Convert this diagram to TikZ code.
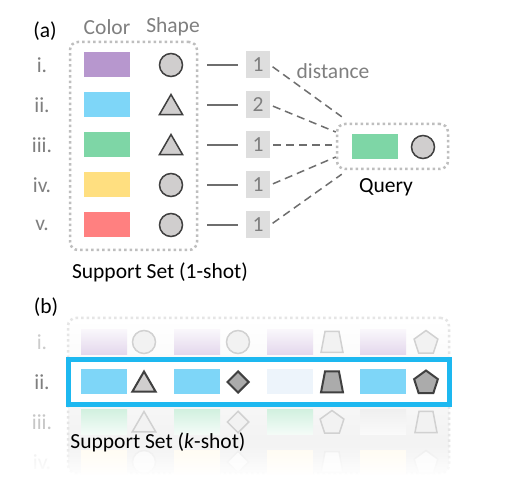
\documentclass[tikz,border=0pt]{standalone}
\usepackage{fontspec}
\setmainfont{Carlito}
\usetikzlibrary{positioning,calc,shapes.geometric,fadings}
\definecolor{cPurple}{RGB}{183,151,206}
\definecolor{cBlue}{RGB}{126,214,248}
\definecolor{cGreen}{RGB}{126,214,166}
\definecolor{cYellow}{RGB}{255,223,128}
\definecolor{cRed}{RGB}{255,128,128}
\definecolor{cPale}{RGB}{237,244,251}
\definecolor{cHigh}{RGB}{29,184,240}
\definecolor{cGrayText}{RGB}{127,127,127}
\definecolor{cLine}{RGB}{110,110,110}
\definecolor{cNumBox}{RGB}{222,222,222}
\definecolor{cDot}{RGB}{190,190,190}
\definecolor{cStroke}{RGB}{64,64,64}
\definecolor{cShapeFill}{RGB}{208,206,206}
\tikzfading[name=fadeout, top color=transparent!100, bottom color=transparent!0]
\tikzset{
  txt/.style={font=\fontsize{21.5}{26}\selectfont, inner sep=0pt},
  graytxt/.style={txt, text=cGrayText},
  swatch/.style={minimum width=46pt, minimum height=25pt, inner sep=0pt},
  circ/.style={circle, minimum size=23pt, inner sep=0pt},
  tri/.style={regular polygon, regular polygon sides=3, minimum size=27pt, inner sep=0pt, yshift=-3pt},
  diam/.style={diamond, minimum width=22pt, minimum height=22pt, inner sep=0pt},
  trap/.style={trapezium, trapezium left angle=74, trapezium right angle=74, trapezium stretches=true, minimum width=22pt, minimum height=21pt, inner sep=1pt},
  pent/.style={regular polygon, regular polygon sides=5, minimum size=25pt, inner sep=0pt, yshift=-1pt},
  ashape/.style={draw=cStroke, fill=cShapeFill, line width=1.5pt},
  bshape/.style={draw=cStroke, line width=2pt},
  fshape/.style={draw=black!18, fill=black!5, line width=1.5pt},
  xshape/.style={draw=black!8, fill=black!2, line width=1.5pt},
  numbox/.style={txt, text=cGrayText, fill=cNumBox, minimum width=24pt, minimum height=27pt},
  dotbox/.style={draw=cDot, line width=2.5pt, dash pattern=on 2.5pt off 3pt, rounded corners=8pt, inner sep=0pt},
  link/.style={draw=cLine, line width=1.5pt},
  dlink/.style={link, dash pattern=on 8pt off 5pt}
}
\begin{document}
\begin{tikzpicture}[x=1pt, y=-1pt]
\useasboundingbox[fill=white] (0,0) rectangle (507,484);

% (a) one-shot support set and query
\node[txt] (tagA) at (45,31) {(a)};
\node[graytxt] (hcol) at (107,27) {Color};
\node[graytxt] (hshp) at (173,27) {Shape};
\node[dotbox, minimum width=127pt, minimum height=208pt] (sup) at (133.5,146) {};
\foreach \i/\lab/\col/\shp/\d in {1/i./cPurple/circ/1, 2/ii./cBlue/tri/2, 3/iii./cGreen/tri/1, 4/iv./cYellow/circ/1, 5/v./cRed/circ/1}{
  \node[graytxt] (lab\i) at (42,25+40*\i) {\lab};
  \node[swatch, fill=\col] (col\i) at (107,25+40*\i) {};
  \node[\shp, ashape] (shp\i) at (171,25+40*\i) {};
  \node[numbox] (num\i) at (258,25+40*\i) {\d};
  \draw[link, shorten <=36pt, shorten >=8pt] (shp\i.center |- num\i.west) -- (num\i.west);
}
\node[txt] (supcap) at (160,272) {Support Set (1-shot)};

\node[dotbox, minimum width=111pt, minimum height=45pt] (q) at (392.5,146.5) {};
\node[swatch, fill=cGreen] (qcol) at (375,147) {};
\node[circ, ashape] (qshp) at (423,147) {};
\node[txt] (qcap) at (386,187) {Query};
\node[graytxt] (dist) at (333,71) {distance};
\coordinate (qin1) at ($(q.north west)+(6,-6)$);
\coordinate (qin2) at ($(q.west)+(0,-14.5)$);
\coordinate (qin3) at ($(q.west)+(-4,-1.5)$);
\coordinate (qin4) at ($(q.west)+(0,10.5)$);
\coordinate (qin5) at ($(q.south west)+(6,4)$);
\foreach \i in {1,...,5}{
  \draw[dlink, shorten <=3pt] (num\i.east) -- (qin\i);
}

% (b) k-shot support set
\node[txt] (tagB) at (46,307) {(b)};
\node[dotbox, draw=black!10, top color=white, bottom color=black!6, minimum width=381pt, minimum height=155pt] (kbox) at (258.5,395.5) {};
\node[txt, text=black!20] (klab1) at (42,342) {i.};
\node[graytxt] (klab2) at (42,382) {ii.};
\node[txt, text=black!22] (klab3) at (42,422) {iii.};
\node[txt, text=black!8] (klab4) at (42,462) {iv.};
\foreach \k/\s in {0/circ,1/circ,2/trap,3/pent}{
  \node[swatch, top color=cPurple!8, bottom color=cPurple!38] (ra\k) at (104+93*\k,342) {};
  \node[\s, fshape] (sa\k) at (144+94*\k,342) {};
}
\foreach \k/\ct/\cb/\s in {0/cGreen!35/cGreen!8/tri,1/cGreen!35/cGreen!8/diam,2/cGreen!35/cGreen!8/pent,3/black!6/black!2/trap}{
  \node[swatch, top color=\ct, bottom color=\cb] (rc\k) at (104+93*\k,422) {};
  \node[\s, fshape] (sc\k) at (144+94*\k,422) {};
}
\foreach \k/\s in {0/circ,1/diam,2/trap,3/pent}{
  \node[swatch, fill=cYellow!12] (rd\k) at (104+93*\k,462) {};
  \node[\s, xshape] (sd\k) at (144+94*\k,462) {};
}
\fill[white, path fading=fadeout] (30,442) rectangle (470,476);
\fill[white] (30,476) rectangle (470,484);

\node[draw=cHigh, line width=5pt, fill=white, minimum width=380.5pt, minimum height=45.5pt, inner sep=0pt] (hl) at (258.75,382.25) {};
\foreach \k/\c/\s/\f in {0/cBlue/tri/cShapeFill,1/cBlue/diam/black!33,2/cPale/trap/black!33,3/cBlue/pent/black!33}{
  \node[swatch, fill=\c] (rb\k) at (104+93*\k,382) {};
  \node[\s, bshape, fill=\f] (sb\k) at (144+94*\k,382) {};
}
\node[txt] (kcap) at (158,442) {Support Set (\textit{k}-shot)};
\end{tikzpicture}
\end{document}
